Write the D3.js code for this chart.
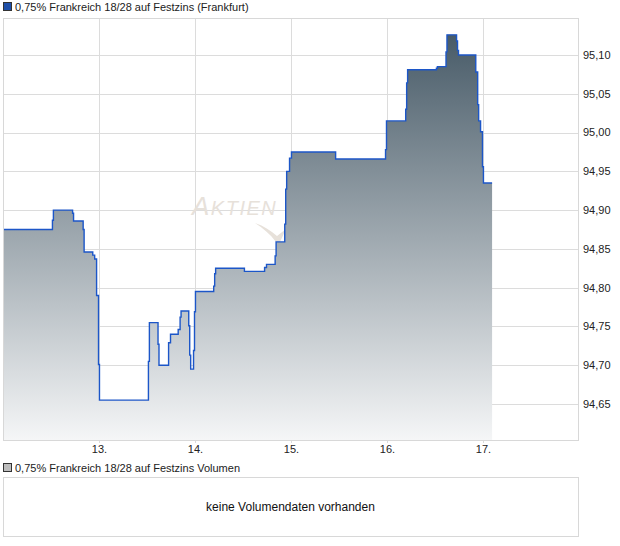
<!DOCTYPE html>
<html>
<head>
<meta charset="utf-8">
<script src="https://cdn.jsdelivr.net/npm/d3@7"></script>
<style>
  body { margin: 0; background: #fff; }
  text { font-family: "Liberation Sans", Arial, sans-serif; }
</style>
</head>
<body>
<script>
// data (time as fractional day of month)
var times = [12.00, 12.51, 12.52, 12.72, 12.73, 12.83, 12.84, 12.93, 12.95, 12.97,
             12.99, 13.00, 13.51, 13.52, 13.61, 13.62, 13.72, 13.74, 13.82, 13.84,
             13.85, 13.93, 13.94, 13.95, 13.98, 13.99, 14.00, 14.19, 14.20, 14.21,
             14.51, 14.72, 14.74, 14.83, 14.84, 14.93, 14.94, 14.95, 14.98, 15.00,
             15.46, 15.98, 15.99, 16.19, 16.20, 16.21, 16.51, 16.52, 16.61, 16.62,
             16.72, 16.73, 16.74, 16.92, 16.94, 16.95, 16.97, 16.99, 17.00, 17.09];
var prices = [94.875, 94.887, 94.900, 94.896, 94.886, 94.875, 94.846, 94.842, 94.837, 94.790,
              94.701, 94.655, 94.705, 94.755, 94.727, 94.700, 94.729, 94.740, 94.746, 94.762,
              94.770, 94.751, 94.713, 94.695, 94.719, 94.769, 94.795, 94.802, 94.818, 94.825,
              94.821, 94.826, 94.830, 94.841, 94.859, 94.882, 94.927, 94.950, 94.967, 94.975,
              94.966, 94.978, 95.015, 95.030, 95.064, 95.081, 95.083, 95.085, 95.104, 95.126,
              95.118, 95.106, 95.100, 95.078, 95.036, 95.015, 95.001, 94.956, 94.935, 94.935];
var dayTicks = [13, 14, 15, 16, 17];
var priceTicks = [94.65, 94.70, 94.75, 94.80, 94.85, 94.90, 94.95, 95.00, 95.05, 95.10];
var title = "0,75% Frankreich 18/28 auf Festzins (Frankfurt)";
var volTitle = "0,75% Frankreich 18/28 auf Festzins Volumen";
var volEmpty = "keine Volumendaten vorhanden";

var data = times.map(function(t, i) { return { t: t, v: prices[i] }; });

// plot box
var pLeft = 3, pRight = 578, pTop = 18, pBottom = 440;

var svg = d3.select("body")
    .append("svg")
    .attr("width", 620)
    .attr("height", 546);

var x = d3.scaleLinear().domain([11.995, 17.985]).range([pLeft, pRight]);
var y = d3.scaleLinear().domain([94.6036, 95.1477]).range([pBottom, pTop]);

var comma = function(d) { return d3.format(".2f")(d).replace(".", ","); };

// gradient for the area
var grad = svg.append("defs").append("linearGradient")
    .attr("id", "fillGrad")
    .attr("gradientUnits", "userSpaceOnUse")
    .attr("x1", 0).attr("x2", 0)
    .attr("y1", y(d3.max(prices))).attr("y2", pBottom);
grad.append("stop").attr("offset", 0).attr("stop-color", "#485b68");
grad.append("stop").attr("offset", 1).attr("stop-color", "#f5f6f7");

// legend on top
svg.append("rect")
    .attr("x", 3.5).attr("y", 2.5).attr("width", 8).attr("height", 8)
    .attr("fill", "#1f4fa8").attr("stroke", "#333").attr("stroke-width", 1);
svg.append("text")
    .attr("x", 15).attr("y", 11)
    .attr("font-size", "11px").attr("fill", "#222")
    .text(title);

// grid
var grid = svg.append("g");
grid.selectAll(".hg")
    .data(priceTicks)
    .enter().append("line")
    .attr("x1", pLeft).attr("x2", pRight)
    .attr("y1", function(d) { return Math.round(y(d)) + 0.5; })
    .attr("y2", function(d) { return Math.round(y(d)) + 0.5; })
    .attr("stroke", "#dcdcdc");
grid.selectAll(".vg")
    .data(dayTicks)
    .enter().append("line")
    .attr("y1", pTop).attr("y2", pBottom + 3)
    .attr("x1", function(d) { return Math.round(x(d)) + 0.5; })
    .attr("x2", function(d) { return Math.round(x(d)) + 0.5; })
    .attr("stroke", "#dcdcdc");

// watermark
var wm = svg.append("g").attr("fill", "#e7e1da");
wm.append("text")
    .attr("x", 192).attr("y", 215)
    .attr("font-style", "italic").attr("font-size", "20px")
    .attr("letter-spacing", "1.5px")
    .html('<tspan font-size="26px">A</tspan>KTIEN');
wm.append("path")
    .attr("d", "M255,223 C264,226 271,231 277,236 L286,229 L280,242 L276,242 C270,234 263,228 255,223 Z");

// area + line
var area = d3.area()
    .curve(d3.curveStepAfter)
    .x(function(d) { return x(d.t); })
    .y0(pBottom)
    .y1(function(d) { return y(d.v); });
var line = d3.line()
    .curve(d3.curveStepAfter)
    .x(function(d) { return x(d.t); })
    .y(function(d) { return y(d.v); });

svg.append("path")
    .datum(data)
    .attr("d", area)
    .attr("fill", "url(#fillGrad)");
svg.append("path")
    .datum(data)
    .attr("d", line)
    .attr("fill", "none")
    .attr("stroke", "#1c56c8")
    .attr("stroke-width", 1.4);

// frame
svg.append("rect")
    .attr("x", pLeft + 0.5).attr("y", pTop + 0.5)
    .attr("width", pRight - pLeft).attr("height", pBottom - pTop)
    .attr("fill", "none").attr("stroke", "#d8d8d8");

// y labels on the right
svg.append("g").selectAll("text")
    .data(priceTicks)
    .enter().append("text")
    .attr("x", pRight + 5)
    .attr("y", function(d) { return y(d); })
    .attr("dy", "0.35em")
    .attr("font-size", "11px").attr("fill", "#222")
    .text(comma);

// x labels
svg.append("g").selectAll("text")
    .data(dayTicks)
    .enter().append("text")
    .attr("x", function(d) { return x(d); })
    .attr("y", 453)
    .attr("text-anchor", "middle")
    .attr("font-size", "11px").attr("fill", "#222")
    .text(function(d) { return d + "."; });

// volume panel
svg.append("rect")
    .attr("x", 3.5).attr("y", 463.5).attr("width", 8).attr("height", 8)
    .attr("fill", "#bdbdbd").attr("stroke", "#333").attr("stroke-width", 1);
svg.append("text")
    .attr("x", 15).attr("y", 472)
    .attr("font-size", "11px").attr("fill", "#222")
    .text(volTitle);
svg.append("rect")
    .attr("x", pLeft + 0.5).attr("y", 477.5)
    .attr("width", pRight - pLeft).attr("height", 59)
    .attr("fill", "none").attr("stroke", "#d8d8d8");
svg.append("text")
    .attr("x", (pLeft + pRight) / 2).attr("y", 507)
    .attr("dy", "0.35em")
    .attr("text-anchor", "middle")
    .attr("font-size", "12px").attr("fill", "#111")
    .text(volEmpty);
</script>
</body>
</html>
